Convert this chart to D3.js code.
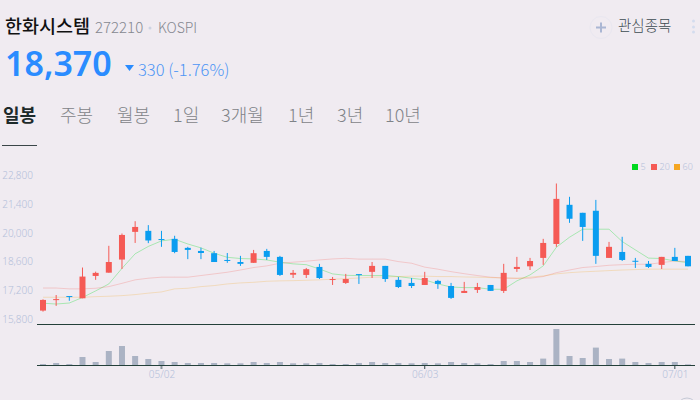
<!DOCTYPE html>
<html>
<head>
<meta charset="utf-8">
<script src="https://cdnjs.cloudflare.com/ajax/libs/d3/7.8.5/d3.min.js"></script>
<style>
html,body{margin:0;padding:0;background:#f0ebf1;overflow:hidden}
text{font-family:"Noto Sans CJK KR","Noto Sans",sans-serif}
.axis path,.axis line{display:none}
.axis text{font-family:"Noto Sans","Noto Sans CJK KR",sans-serif;font-size:10px;font-weight:300;fill:#b4c0da}
</style>
</head>
<body>
<svg id="chart" width="700" height="400"></svg>
<script>
// values
var tabs = ['일봉','주봉','월봉','1일','3개월','1년','3년','10년'];
var tabX = [3,60,117,173,221,288,337,385];

var open  = [16210,16750,16920,16810,17900,18060,18700,20050,20100,19700,19710,19270,19120,19010,18680,18580,18540,19120,18830,17960,17950,18340,17730,17560,17990,18100,18390,17710,17560,17460,17660,17410,17070,17220,17460,17170,18240,18370,18780,19460,21370,20980,21080,18780,19070,18640,18490,18440,18830,18880];
var high  = [16760,16970,16920,18310,18110,19370,19970,20570,20380,20100,19860,19320,19280,19120,19020,18880,19170,19220,18880,18190,18290,18490,17850,18000,17990,18580,18390,17850,17800,18100,17710,17560,17610,17560,17460,18490,18830,18780,19710,22410,21760,20980,21610,19560,19810,18780,18630,18830,19270,18880];
var low   = [16160,16440,16690,16810,17710,18060,18240,19510,19500,19320,19010,18720,18720,18580,18540,18390,18540,18680,17900,17800,17800,17750,17460,17510,17510,17800,17610,17310,17310,17460,17270,16780,17070,17070,17170,17070,18100,18190,18440,19320,20490,19610,18490,18780,18630,18290,18290,18240,18630,18370];
var close = [16730,16770,16900,17870,18050,18580,19900,20290,19630,19680,19070,19170,19020,18580,18660,18490,19010,18830,17950,18050,18230,17800,17750,17750,17970,18390,17750,17360,17410,17800,17510,16830,17170,17360,17170,18050,18340,18630,19510,21660,20690,20290,18880,19320,18680,18620,18340,18830,18630,18370];

var ma5  = [16570,16530,16580,16850,17170,17510,18270,18980,19340,19610,19690,19460,19270,19010,18810,18750,18730,18680,18570,18490,18450,18240,18000,17930,17920,17920,17920,17870,17790,17710,17510,17360,17330,17330,17250,17250,17660,17950,18390,19300,19790,20180,20180,20180,19580,19170,18770,18750,18630,18550];
var ma20 = [17310,17310,17270,17270,17300,17380,17540,17710,17790,17840,17840,17840,17920,18000,18080,18190,18310,18390,18520,18570,18620,18680,18730,18760,18720,18720,18720,18600,18520,18330,18230,18110,18010,17920,17840,17800,17780,17790,17870,18060,18190,18310,18360,18420,18450,18470,18470,18550,18630,18600];
var ma60 = [16860,16860,16860,16860,16890,16910,16940,16990,17060,17120,17270,17300,17380,17430,17510,17560,17590,17640,17660,17670,17690,17710,17740,17770,17800,17840,17850,17870,17890,17890,17870,17870,17850,17840,17820,17800,17790,17840,17900,18000,18060,18100,18130,18160,18190,18210,18230,18230,18230,18230];

var volume = [13,23,13,83,33,143,193,93,63,43,33,23,23,23,20,20,33,23,33,20,20,23,13,13,23,33,23,23,20,23,20,33,23,20,13,43,43,33,67,363,93,73,177,63,67,33,23,33,33,10];

var priceTicks = [22800,21400,20000,18600,17200,15800];
var dateTicks = [9,29,48];
var dateLabels = ['05/02','06/03','07/01'];
var legendNames = ['5','20','60'];
var legendColors = ['#00d91f','#f55a55','#f5a623'];

var svg = d3.select('#chart');

//Header
function label(txt,x,y,size,color,weight){
	return svg.append('text')
		.attr('x',x)
		.attr('y',y)
		.style('font-size',size+'px')
		.style('font-weight',weight||400)
		.style('fill',color)
		.text(txt);
}
label('한화시스템',5,33,18.500,'#111','500');
label('272210',95,33,15,'#858890','300');
svg.append('circle').attr('cx',150).attr('cy',28).attr('r',1.500).style('fill','#cdd3e2');
label('KOSPI',158,33,14,'#858890','300');
label('18,370',5,76,34,'#2a8cff','600').style('font-family','"Noto Sans",sans-serif');
svg.append('path').attr('d','M125,65L134,65L129.500,71Z').style('fill','#2a8cff');
label('330 (-1.76%)',138,76,16.500,'#4d95f5','300');

//Tabs
tabs.forEach(function(t,i){
	label(t,tabX[i],122,18,i==0?'#1d2a2a':'#7f8388',i==0?'700':'300');
});
svg.append('line').attr('x1',2).attr('x2',37).attr('y1',145.500).attr('y2',145.500).style('stroke','#3a4648');

//Top right
svg.append('circle').attr('cx',601).attr('cy',27.500).attr('r',11).style('fill','none').style('stroke','#e9e7f0');
svg.append('path').attr('d','M596,27.500H606M601,22.500V32.500').style('stroke','#aab6d3').style('stroke-width',2);
label('관심종목',618,31,14.500,'#3d4c52','300');
[21,27,32].forEach(function(cy){
	svg.append('circle').attr('cx',693.500).attr('cy',cy).attr('r',1.500).style('fill','#d3dcee');
});

//Scales
var x = d3.scaleLinear().domain([0,open.length-1]).range([43,688]);
var y = d3.scaleLinear().domain([15800,22800]).range([319,175.500]);
var v = d3.scaleLinear().domain([0,408]).range([365.300,324.500]);

//Legend
legendNames.forEach(function(n,i){
	var lx = [632,651,674][i];
	svg.append('rect').attr('x',lx).attr('y',164).attr('width',6).attr('height',6).style('fill',legendColors[i]);
	label(n,lx+8.500,170,9,'#b4c0da','300').style('font-family','"Noto Sans",sans-serif');
});

//Axes
svg.append('g').attr('class','axis')
	.attr('transform','translate(33,0)')
	.call(d3.axisLeft(y).tickValues(priceTicks).tickSize(0).tickPadding(0).tickFormat(d3.format(',')));

svg.append('g').attr('class','axis')
	.attr('transform','translate(0,371)')
	.call(d3.axisBottom(x).tickValues(dateTicks).tickSize(0).tickPadding(0).tickFormat(function(d,i){return dateLabels[i];}));

dateTicks.forEach(function(d,i){
	svg.append('line')
		.attr('x1',x(d)).attr('x2',x(d))
		.attr('y1',365.500).attr('y2',369)
		.style('stroke',i==0?'#8b949c':'#33464a')
		.style('stroke-width',i==0?2:1);
});

//Moving averages
var line = d3.line().x(function(d,i){return x(i);}).y(function(d){return y(d);});
[ma5,ma20,ma60].forEach(function(s,i){
	svg.append('path')
		.attr('d',line(s))
		.style('fill','none')
		.style('stroke',legendColors[i])
		.style('stroke-width',1)
		.style('opacity',i==0?0.3:0.25);
});

//Candles
d3.range(open.length).forEach(function(i){
	var color = close[i]>=open[i] ? '#f55a55' : '#0a9df0';
	var top = Math.max(open[i],close[i]);
	var bottom = Math.min(open[i],close[i]);
	svg.append('line')
		.attr('x1',x(i)).attr('x2',x(i))
		.attr('y1',y(high[i])).attr('y2',y(low[i]))
		.style('stroke',color)
		.style('stroke-width',1);
	svg.append('rect')
		.attr('x',x(i)-3)
		.attr('y',y(top))
		.attr('width',6)
		.attr('height',Math.max(y(bottom)-y(top),1))
		.style('fill',color);
});

//Volume
svg.selectAll('.vol').data(volume).enter().append('rect')
	.attr('class','vol')
	.attr('x',function(d,i){return x(i)-3;})
	.attr('y',function(d){return v(d);})
	.attr('width',6)
	.attr('height',function(d){return v(0)-v(d);})
	.style('fill','#abb3c4');

//Frame lines
[324.500,365.500].forEach(function(ly){
	svg.append('line')
		.attr('x1',37).attr('x2',695)
		.attr('y1',ly).attr('y2',ly)
		.style('stroke','#24403a');
});

//Page content cut off by the window
svg.append('circle').attr('cx',687).attr('cy',408).attr('r',10).style('fill','none').style('stroke','#c5c9d6');
</script>
</body>
</html>
